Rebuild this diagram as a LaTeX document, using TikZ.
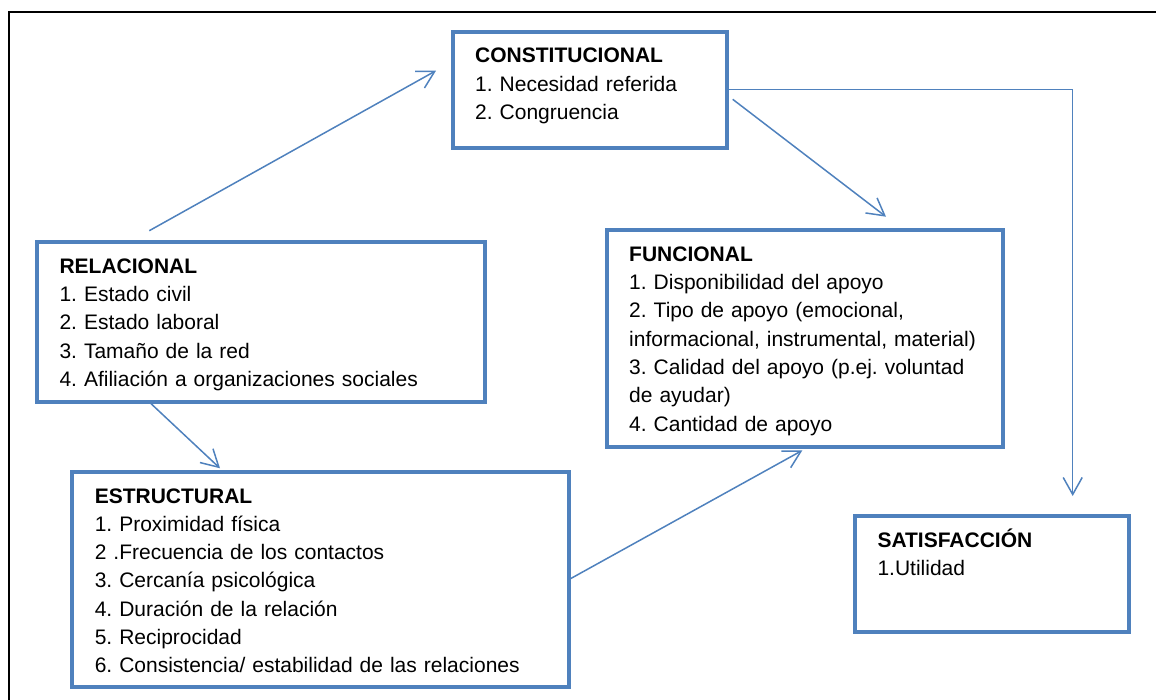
\documentclass[tikz,border=0pt]{standalone}
\usepackage{fontspec}
\setmainfont{Liberation Sans}
\usetikzlibrary{arrows.meta}
\definecolor{azul}{HTML}{4F81BD}
\begin{document}
\begin{tikzpicture}[x=0.5pt,y=-0.5pt,
  caja/.style={draw=azul, line width=2pt, outer sep=0pt, anchor=north west, align=left,
    inner xsep=11.25pt, inner ysep=5.75pt, text height=9.9pt,
    font=\fontsize{10.5}{14.15}\selectfont\frenchspacing},
  flecha/.style={draw=azul, line width=0.75pt, -{Straight Barb[length=8.5pt,width=9.5pt]}}]
\useasboundingbox (0,0) rectangle (1156,700);
\draw[line width=1pt] (9,700) |- (1156,11.7);
\node[caja, text width=114.65pt, text depth=36.6pt] (const) at (452.7,31.7)
  {\textbf{CONSTITUCIONAL}\\1. Necesidad referida\\2. Congruencia};
\node[caja, text width=201.5pt, text depth=58.6pt] (rel) at (37,242)
  {\textbf{RELACIONAL}\\1. Estado civil\\2. Estado laboral\\3. Tamaño de la red\\4. Afiliación a organizaciones sociales};
\node[caja, text width=175.65pt, text depth=86.95pt] (func) at (606.7,230)
  {\textbf{FUNCIONAL}\\1. Disponibilidad del apoyo\\2. Tipo de apoyo (emocional,\\informacional, instrumental, material)\\3. Calidad del apoyo (p.ej. voluntad\\de ayudar)\\4. Cantidad de apoyo};
\node[caja, text width=226pt, text depth=86.25pt] (estr) at (72.3,471.7)
  {\textbf{ESTRUCTURAL}\\1. Proximidad física\\2 .Frecuencia de los contactos\\3. Cercanía psicológica\\4. Duración de la relación\\5. Reciprocidad\\6. Consistencia/ estabilidad de las relaciones};
\node[caja, text width=114.35pt, text depth=36.6pt] (sat) at (855,515.7)
  {\textbf{SATISFACCIÓN}\\1.Utilidad};
\draw[flecha] ([shift={(112.3,-11.3)}]rel.north west) -- ([shift={(-16.7,39)}]const.north west);
\draw[flecha] ([shift={(113,0.7)}]rel.south west) -- ([shift={(147.7,-3.4)}]estr.north west);
\draw[flecha] ([shift={(5.7,67.6)}]const.north east) -- ([shift={(279.3,-13.3)}]func.north west);
\draw[flecha] (const.east) -| ([shift={(-56,-19.7)}]sat.north east);
\draw[flecha] (estr.east) -- ([shift={(195.6,3.7)}]func.south west);
\end{tikzpicture}
\end{document}
